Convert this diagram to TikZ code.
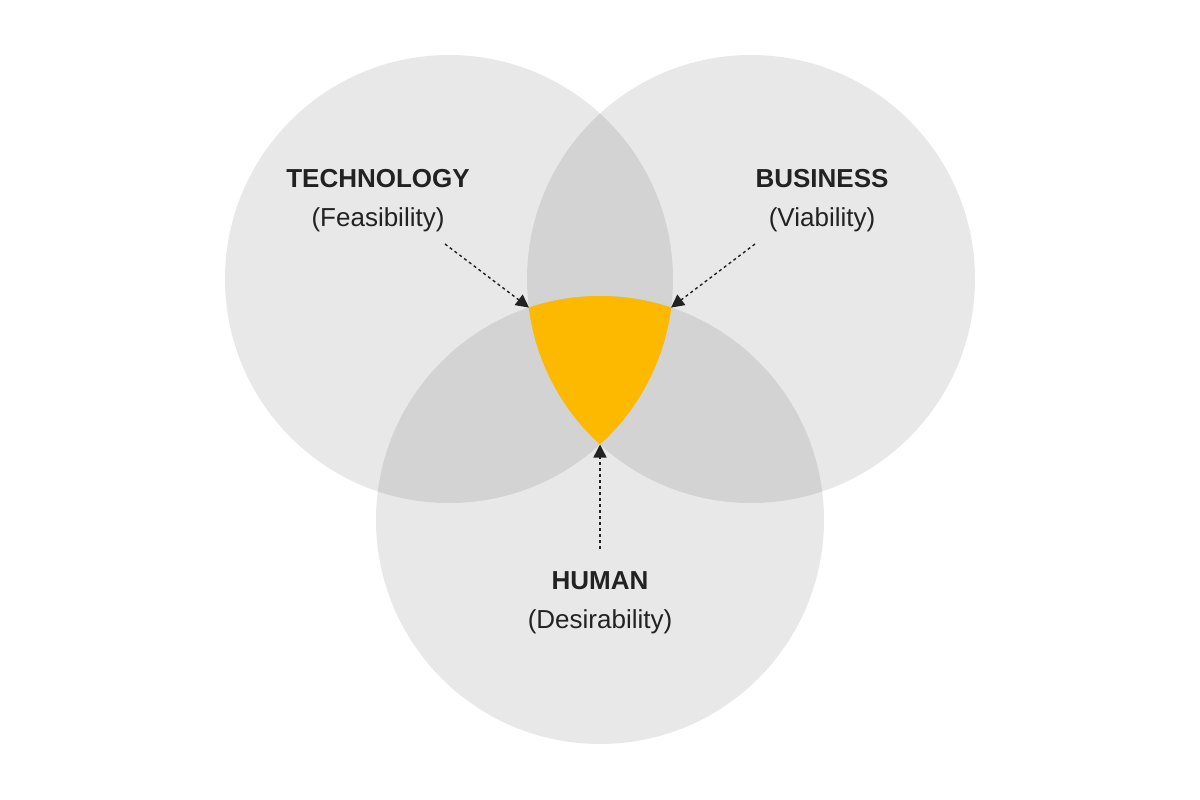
\documentclass[tikz,border=0pt]{standalone}
\usepackage{fontspec}
\setmainfont{Liberation Sans}
\usetikzlibrary{arrows.meta}
\definecolor{txt}{HTML}{222222}
\definecolor{gold}{HTML}{FDB900}
\begin{document}
\begin{tikzpicture}[x=1pt,y=-1pt,
  venn/.style={fill=black,fill opacity=0.09},
  lbl/.style={text=txt,align=center,font=\fontsize{26}{39}\selectfont,inner sep=0pt},
  pointer/.style={draw=txt,line width=1.4pt,dash pattern=on 3pt off 3pt,-{Triangle[length=13pt,width=13pt]}}]
\useasboundingbox (0,0) rectangle (1200,800);
\fill[white] (0,0) rectangle (1200,800);
\fill[venn] (449,279) circle[radius=224pt];
\fill[venn] (751,279) circle[radius=224pt];
\fill[venn] (600,520) circle[radius=224pt];
\begin{scope}
  \clip (449,279) circle[radius=224pt];
  \clip (751,279) circle[radius=224pt];
  \fill[gold] (600,520) circle[radius=224pt];
\end{scope}
\coordinate (vl) at (529,307.6);
\coordinate (vr) at (671,307.6);
\coordinate (vb) at (600,444.5);
\node[lbl] (tech) at (378,201) {\textbf{TECHNOLOGY}\\(Feasibility)};
\node[lbl] (bus) at (822,201) {\textbf{BUSINESS}\\(Viability)};
\node[lbl] (hum) at (600,603) {\textbf{HUMAN}\\(Desirability)};
\coordinate (tl) at (445,244);
\coordinate (tr) at (755,244);
\coordinate (tb) at (600,549);
\draw[pointer] (tl) -- (vl);
\draw[pointer] (tr) -- (vr);
\draw[pointer] (tb) -- (vb);
\end{tikzpicture}
\end{document}
